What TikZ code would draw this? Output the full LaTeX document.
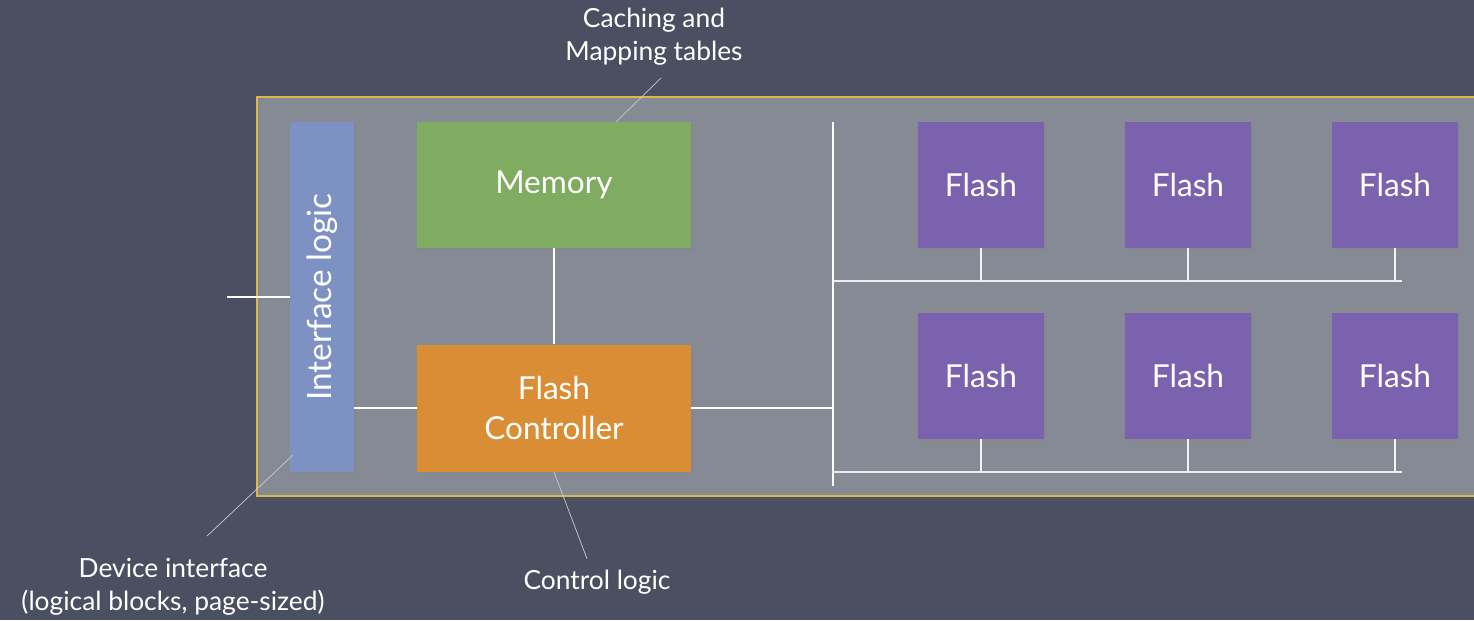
\documentclass[tikz,border=0pt]{standalone}
\usepackage{fontspec}
\setmainfont{Lato}
\usetikzlibrary{shadows}

\definecolor{chalk}{HTML}{4A5061}
\definecolor{panel}{HTML}{868A95}
\definecolor{rim}{HTML}{D9B948}
\definecolor{ifblue}{HTML}{7D92C2}
\definecolor{memgreen}{HTML}{80AC62}
\definecolor{ctrlorange}{HTML}{D98E36}
\definecolor{flashpurple}{HTML}{7A62AE}

\tikzset{
  block/.style={inner sep=0pt, text=white, align=center,
    font=\fontsize{18}{23}\selectfont,
    drop shadow={shadow xshift=1pt, shadow yshift=-1pt, opacity=0.25}},
  flashbox/.style={block, fill=flashpurple, minimum width=2.52cm, minimum height=2.52cm},
  wire/.style={white, line width=1.2pt},
  busline/.style={white!85!panel, line width=0.9pt},
  drop/.style={white!90!panel, line width=0.6pt},
  note/.style={text=white, align=center, font=\fontsize{15}{19}\selectfont},
  pointer/.style={white!70!chalk, line width=0.4pt}
}

\begin{document}
\begin{tikzpicture}[x=0.02cm,y=-0.02cm]
  % board background and page frame
  \fill[chalk] (0,0) rectangle (1474,620);
  \useasboundingbox (0,0) rectangle (1474,620);

  % the drive itself
  \draw[rim, line width=1.6pt, fill=panel] (257,97) rectangle (1490,496);

  % left part: interface, memory, controller
  \node[block, fill=ifblue, minimum width=1.28cm, minimum height=7cm] (iface) at (322,297) {};
  \node[text=white, rotate=90, font=\fontsize{19}{23}\selectfont] (ifacetext) at (iface) {Interface logic};
  \node[block, fill=memgreen, minimum width=5.48cm, minimum height=2.52cm] (mem) at (554,185) {Memory};
  \node[block, fill=ctrlorange, minimum width=5.48cm, minimum height=2.54cm] (ctrl) at (554,408) {Flash\\Controller};

  % flash chips, two rows of three
  \foreach \x [count=\i] in {981,1188,1395} {
    \node[flashbox] (flA\i) at (\x,185) {Flash};
    \node[flashbox] (flB\i) at (\x,376) {Flash};
  }

  % bus wiring
  \coordinate (host) at (227,297);
  \coordinate (bustop) at (833,122);
  \coordinate (busbot) at (833,486);
  \coordinate (rowA) at (833,281);
  \coordinate (rowAend) at (1402,281);
  \coordinate (rowB) at (833,472);
  \coordinate (rowBend) at (1402,472);

  \draw[wire] (host) -- (iface.west |- host);
  \draw[wire] (mem) -- (ctrl);
  \draw[wire] (iface.east |- ctrl) -- (ctrl.west);
  \draw[wire] (ctrl.east) -- (ctrl.east -| bustop);
  \draw[wire] (bustop) -- (busbot);
  \draw[busline] (rowA) -- (rowAend);
  \draw[busline] (rowB) -- (rowBend);
  \foreach \i in {1,2,3} {
    \draw[drop] (flA\i.south) -- (flA\i.south |- rowA);
    \draw[drop] (flB\i.south) -- (flB\i.south |- rowB);
  }

  % annotations
  \node[note] (cachelbl) at (654,37) {Caching and\\Mapping tables};
  \node[note] (devlbl) at (173,587) {Device interface\\(logical blocks, page-sized)};
  \node[note] (ctrllbl) at (597,582) {Control logic};
  \coordinate (cachetip) at (616,122);
  \coordinate (devtip) at (293,455);
  \draw[pointer] ([shift={(7,6)}]cachelbl.south) -- (cachetip);
  \draw[pointer] ([shift={(34,-16)}]devlbl.north) -- (devtip);
  \draw[pointer] ([shift={(-10,-5)}]ctrllbl.north) -- (ctrl.south);
\end{tikzpicture}
\end{document}
